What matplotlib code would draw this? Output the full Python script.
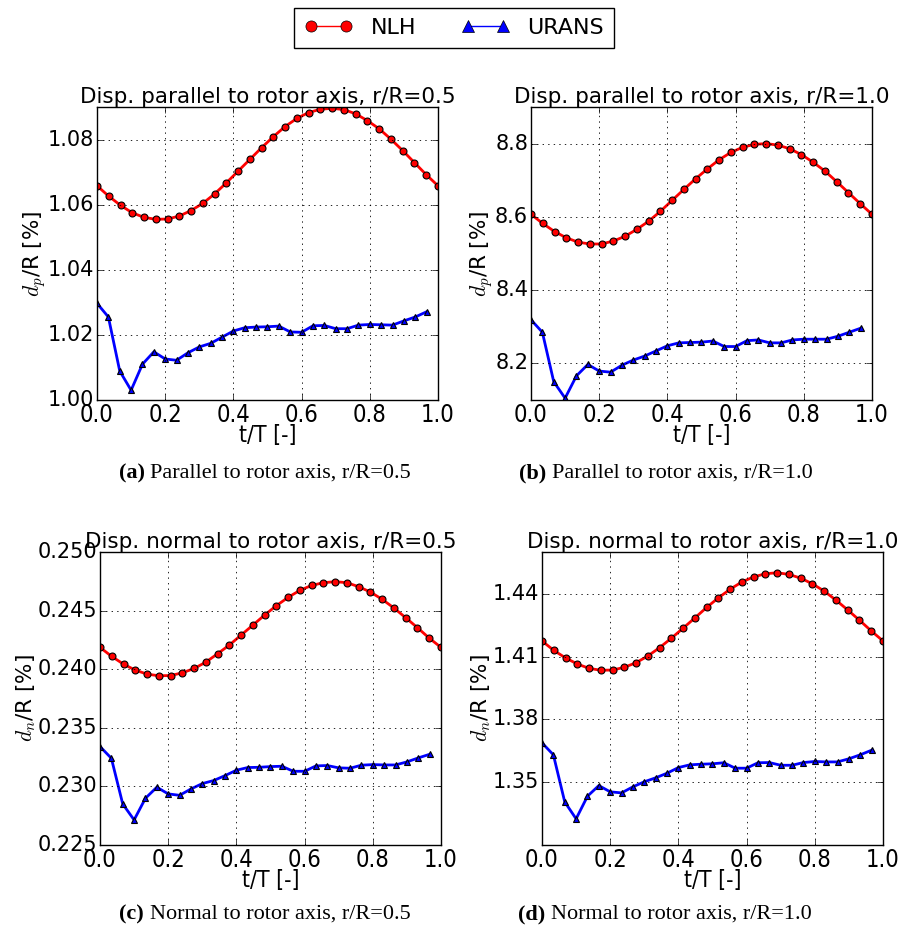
import numpy as np
import matplotlib
matplotlib.use("Agg")
import matplotlib.pyplot as plt
from matplotlib import font_manager
from matplotlib.lines import Line2D

plt.style.use("classic")

# time axes: NLH covers a full period (30 samples incl. end), URANS 30 steps of T/30
t_nlh = np.linspace(0.0, 1.0, 30)
t_urans = np.arange(30) / 30.0

# --- (a) parallel, r/R=0.5 ---
nlh_a = [1.0658, 1.0626, 1.0598, 1.0575, 1.0561, 1.0555, 1.0556, 1.0565, 1.0582, 1.0604,
         1.0633, 1.0667, 1.0703, 1.0739, 1.0775, 1.0809, 1.0840, 1.0865, 1.0883, 1.0893,
         1.0896, 1.0892, 1.0879, 1.0858, 1.0833, 1.0801, 1.0766, 1.0729, 1.0692, 1.0658]
urans_a = [1.0297, 1.0255, 1.0089, 1.0030, 1.0110, 1.0148, 1.0126, 1.0122, 1.0145, 1.0163,
           1.0174, 1.0193, 1.0212, 1.0222, 1.0224, 1.0225, 1.0227, 1.0209, 1.0208, 1.0228,
           1.0229, 1.0219, 1.0219, 1.0230, 1.0232, 1.0231, 1.0230, 1.0243, 1.0255, 1.0271]

# --- (b) parallel, r/R=1.0 ---
nlh_b = [8.607, 8.582, 8.560, 8.543, 8.531, 8.526, 8.526, 8.534, 8.547, 8.566,
         8.588, 8.615, 8.645, 8.675, 8.704, 8.731, 8.756, 8.776, 8.790, 8.798,
         8.800, 8.796, 8.786, 8.770, 8.749, 8.725, 8.696, 8.666, 8.636, 8.607]
urans_b = [8.319, 8.285, 8.150, 8.105, 8.166, 8.197, 8.179, 8.176, 8.195, 8.209,
           8.220, 8.234, 8.248, 8.256, 8.257, 8.258, 8.261, 8.246, 8.246, 8.262,
           8.264, 8.256, 8.256, 8.264, 8.266, 8.266, 8.266, 8.274, 8.285, 8.296]

# --- (c) normal, r/R=0.5 ---
nlh_c = [0.24186, 0.24109, 0.24043, 0.23992, 0.23958, 0.23944, 0.23946, 0.23969, 0.24006, 0.24060,
         0.24132, 0.24206, 0.24291, 0.24376, 0.24462, 0.24542, 0.24613, 0.24673, 0.24715, 0.24738,
         0.24747, 0.24738, 0.24704, 0.24658, 0.24596, 0.24522, 0.24439, 0.24354, 0.24265, 0.24186]
urans_c = [0.23340, 0.23240, 0.22850, 0.22714, 0.22899, 0.22993, 0.22936, 0.22924, 0.22978, 0.23024,
           0.23050, 0.23092, 0.23138, 0.23161, 0.23163, 0.23169, 0.23172, 0.23129, 0.23129, 0.23175,
           0.23178, 0.23158, 0.23155, 0.23181, 0.23186, 0.23183, 0.23183, 0.23209, 0.23243, 0.23274]

# --- (d) normal, r/R=1.0 ---
nlh_d = [1.4175, 1.4130, 1.4094, 1.4065, 1.4044, 1.4035, 1.4036, 1.4049, 1.4071, 1.4103,
         1.4143, 1.4188, 1.4236, 1.4285, 1.4335, 1.4381, 1.4422, 1.4457, 1.4481, 1.4496,
         1.4501, 1.4493, 1.4475, 1.4448, 1.4413, 1.4370, 1.4323, 1.4274, 1.4223, 1.4175]
urans_d = [1.3688, 1.3631, 1.3406, 1.3325, 1.3433, 1.3484, 1.3454, 1.3449, 1.3478, 1.3502,
           1.3521, 1.3543, 1.3570, 1.3583, 1.3586, 1.3588, 1.3593, 1.3567, 1.3567, 1.3593,
           1.3594, 1.3581, 1.3581, 1.3594, 1.3599, 1.3597, 1.3597, 1.3612, 1.3631, 1.3653]

titles = ["Disp. parallel to rotor axis, r/R=0.5", "Disp. parallel to rotor axis, r/R=1.0",
          "Disp. normal to rotor axis, r/R=0.5", "Disp. normal to rotor axis, r/R=1.0"]
captions = [("(a)", "Parallel to rotor axis, r/R=0.5"), ("(b)", "Parallel to rotor axis, r/R=1.0"),
            ("(c)", "Normal to rotor axis, r/R=0.5"), ("(d)", "Normal to rotor axis, r/R=1.0")]
ylabels = [r"$d_p$/R [%]", r"$d_p$/R [%]", r"$d_n$/R [%]", r"$d_n$/R [%]"]
ylims = [(1.00, 1.09), (8.10, 8.90), (0.225, 0.250), (1.32, 1.46)]
yticks = [[1.00, 1.02, 1.04, 1.06, 1.08], [8.2, 8.4, 8.6, 8.8],
          [0.225, 0.230, 0.235, 0.240, 0.245, 0.250], [1.35, 1.38, 1.41, 1.44]]
yfmt = ["%.2f", "%.1f", "%.3f", "%.2f"]

# x tick labels look condensed in the original
names = {(f.name, f.stretch) for f in font_manager.fontManager.ttflist}
if ("DejaVu Sans", "condensed") in names:
    narrow = dict(family="DejaVu Sans", stretch="condensed")
elif any(n == "Liberation Sans Narrow" for n, s in names):
    narrow = dict(family="Liberation Sans Narrow")
else:
    narrow = dict(family="DejaVu Sans")

W, H = 903, 930
fig = plt.figure(figsize=(W / 100, H / 100), dpi=100, facecolor="white")

# axes boxes in pixels: left, top, right, bottom
boxes = [(97, 107, 438, 400), (531, 107, 872, 400), (100, 552, 441, 845), (542, 552, 883, 845)]
cap_pos = [(265, 473), (666, 473), (265, 914), (665, 914)]

series = [(nlh_a, urans_a), (nlh_b, urans_b), (nlh_c, urans_c), (nlh_d, urans_d)]
cap_texts = []

for i, (l, t, r, b) in enumerate(boxes):
    ax = fig.add_axes([l / W, 1 - b / H, (r - l) / W, (b - t) / H])
    nlh, urans = series[i]
    ax.plot(t_nlh, nlh, "-", color="red", lw=2, marker="o", ms=5,
            mfc="red", mec="black", mew=0.8)
    ax.plot(t_urans, urans, "-", color="blue", lw=2, marker="^", ms=5,
            mfc="blue", mec="black", mew=0.8)
    ax.set_xlim(0, 1)
    ax.set_ylim(*ylims[i])
    ax.set_xticks([0.0, 0.2, 0.4, 0.6, 0.8, 1.0])
    ax.set_xticklabels(["0.0", "0.2", "0.4", "0.6", "0.8", "1.0"], fontsize=17, **narrow)
    ax.set_yticks(yticks[i])
    ax.set_yticklabels([yfmt[i] % v for v in yticks[i]], fontsize=15)
    ax.grid(True, color="black", linestyle=":", lw=0.6)
    ax.tick_params(direction="in", length=4, top=True, right=True, pad=2)
    ax.set_xlabel("t/T [-]", fontsize=16.5, labelpad=-2, **narrow)
    ax.set_ylabel(ylabels[i], fontsize=15.5, labelpad=0)
    ax.set_title(titles[i], fontsize=15.5, pad=3)

    tag, rest = captions[i]
    cx, cy = cap_pos[i]
    t1 = fig.text(cx / W, 1 - cy / H, tag + " ", fontsize=16, family="Liberation Serif",
                  weight="bold", ha="left", va="center")
    t2 = fig.text(cx / W, 1 - cy / H, rest, fontsize=16, family="Liberation Serif",
                  ha="left", va="center")
    cap_texts.append((t1, t2, cx, cy))

# centre each caption (bold tag + plain text) on its position
renderer = fig.canvas.get_renderer()
for t1, t2, cx, cy in cap_texts:
    w1 = t1.get_window_extent(renderer).width
    w2 = t2.get_window_extent(renderer).width
    x0 = cx - (w1 + w2) / 2
    t1.set_x(x0 / W)
    t2.set_x((x0 + w1) / W)

handles = [Line2D([], [], color="red", lw=1, marker="o", ms=8, mfc="red", mec="black"),
           Line2D([], [], color="blue", lw=1, marker="^", ms=8, mfc="blue", mec="black")]
fig.legend(handles, ["NLH", "URANS"], loc="upper center", bbox_to_anchor=(0.503, 0.9914),
           ncol=2, numpoints=2, fontsize=16, frameon=True, fancybox=False,
           edgecolor="black", handlelength=2.2, columnspacing=2.0, borderpad=0.45,
           borderaxespad=0.0)

fig.savefig("out.png", dpi=100, facecolor="white")
